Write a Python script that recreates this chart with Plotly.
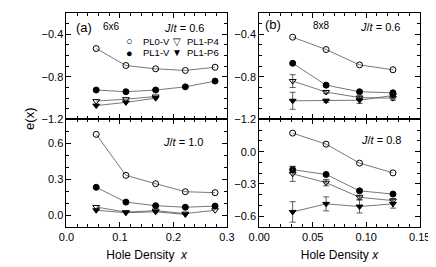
import plotly.graph_objects as go

# ---------------- data ----------------
x6 = [0.0556, 0.1111, 0.1667, 0.2222, 0.2778]
x8 = [0.03125, 0.0625, 0.09375, 0.125]

# (a) 6x6, J/t = 0.6
a06_pl0v = [-0.535, -0.694, -0.725, -0.740, -0.710]
a06_pl1v = [-0.924, -0.940, -0.924, -0.894, -0.840]
a06_p4 = [-1.028, -1.010, -0.985]
a06_p6 = [-1.070, -1.040, -1.000]

# (a) 6x6, J/t = 1.0
a10_pl0v = [0.675, 0.332, 0.262, 0.195, 0.187]
a10_pl1v = [0.232, 0.108, 0.078, 0.065, 0.075]
a10_p4 = [0.067, 0.024, 0.037, 0.012, 0.040]
a10_p6 = [0.040, 0.019, 0.027, 0.005]

# (b) 8x8, J/t = 0.6
b06_pl0v = [-0.428, -0.544, -0.688, -0.734]
b06_pl1v = [-0.673, -0.878, -0.940, -0.950]
b06_p4 = [-0.840, -0.943, -0.995, -1.000]
b06_p4_err = [0.060, 0.015, 0.015, 0.020]
b06_p6 = [-1.025, -1.025, -1.020, -0.975]
b06_p6_err = [0.080, 0.015, 0.030, 0.020]

# (b) 8x8, J/t = 0.8
b08_pl0v = [0.173, 0.070, -0.106, -0.197]
b08_pl1v = [-0.167, -0.212, -0.364, -0.394]
b08_pl1v_err = [0.030, 0.010, 0.010, 0.010]
b08_p4 = [-0.206, -0.288, -0.424, -0.455]
b08_p4_err = [0.070, 0.030, 0.020, 0.020]
b08_p6 = [-0.560, -0.485, -0.510, -0.485]
b08_p6_err = [0.095, 0.065, 0.060, 0.040]

series_names = ["PL0-V", "PL1-V", "PL1-P4", "PL1-P6"]
# --------------------------------------

W, H = 436, 267
FONT = "Liberation Sans, Arial, sans-serif"

styles = {
    "PL0-V": dict(symbol="circle-open", size=6),
    "PL1-V": dict(symbol="circle", size=6),
    "PL1-P4": dict(symbol="triangle-down-open", size=6),
    "PL1-P6": dict(symbol="triangle-down", size=6),
}

fig = go.Figure()

def px_x(p):
    return p / W

def px_y(p):
    return 1 - p / H

# panel domains (paper)
xdomL = [px_x(50), px_x(219)]
xdomR = [px_x(253), px_x(422)]
ydomT = [px_y(114), px_y(5)]
ydomB = [px_y(224), px_y(114)]

def add(axis_id, xs, ys, name, err=None):
    st = styles[name]
    tr = go.Scatter(
        x=xs[:len(ys)], y=ys, mode="lines+markers", name=name, showlegend=False,
        line=dict(color="#555555", width=0.8),
        marker=dict(symbol=st["symbol"], size=st["size"], color="black",
                    line=dict(color="black", width=1)),
        xaxis="x" + axis_id, yaxis="y" + axis_id,
    )
    if err is not None:
        tr.error_y = dict(type="data", array=err, visible=True, color="#333333",
                          thickness=0.8, width=3)
    fig.add_trace(tr)

# panel 1: top-left ; 2: bottom-left ; 3: top-right ; 4: bottom-right
add("1", x6, a06_pl0v, "PL0-V")
add("1", x6, a06_pl1v, "PL1-V")
add("1", x6, a06_p4, "PL1-P4")
add("1", x6, a06_p6, "PL1-P6")

add("2", x6, a10_pl0v, "PL0-V")
add("2", x6, a10_pl1v, "PL1-V")
add("2", x6, a10_p4, "PL1-P4")
add("2", x6, a10_p6, "PL1-P6")

add("3", x8, b06_pl0v, "PL0-V")
add("3", x8, b06_pl1v, "PL1-V")
add("3", x8, b06_p4, "PL1-P4", b06_p4_err)
add("3", x8, b06_p6, "PL1-P6", b06_p6_err)

add("4", x8, b08_pl0v, "PL0-V")
add("4", x8, b08_pl1v, "PL1-V", b08_pl1v_err)
add("4", x8, b08_p4, "PL1-P4", b08_p4_err)
add("4", x8, b08_p6, "PL1-P6", b08_p6_err)

tickfont = dict(family=FONT, size=11, color="black")

def xaxis(domain, rng, dtick, minor_dtick, anchor, labels, fmt, title=None):
    d = dict(domain=domain, range=rng, anchor=anchor, showline=True, mirror="ticks",
             linecolor="black", linewidth=1, ticks="inside", ticklen=5, tickcolor="black",
             dtick=dtick, tick0=0, showgrid=False, zeroline=False,
             showticklabels=labels, tickformat=fmt, tickfont=tickfont,
             minor=dict(ticks="inside", ticklen=3, dtick=minor_dtick, tick0=0,
                        tickcolor="black", showgrid=False))
    if title:
        d["title"] = dict(text=title, font=dict(family=FONT, size=12, color="black"),
                          standoff=8)
    return d

def yaxis(domain, rng, tickvals, minor_dtick, anchor, fmt):
    return dict(domain=domain, range=rng, anchor=anchor, showline=True, mirror="ticks",
                linecolor="black", linewidth=1, ticks="inside", ticklen=5, tickcolor="black",
                tickvals=tickvals, showgrid=False, zeroline=False, tickformat=fmt,
                tickfont=tickfont,
                minor=dict(ticks="inside", ticklen=3, dtick=minor_dtick, tick0=0,
                           tickcolor="black", showgrid=False))

xt = "Hole Density  <i>x</i>"
xt2 = "Hole Density <i>x</i>"
fig.update_layout(
    xaxis1=xaxis(xdomL, [0, 0.3], 0.1, 0.02, "y1", False, ".1f"),
    yaxis1=yaxis(ydomT, [-1.2, -0.2], [-1.2, -0.8, -0.4], 0.1, "x1", ".1f"),
    xaxis2=xaxis(xdomL, [0, 0.3], 0.1, 0.02, "y2", True, ".1f", xt),
    yaxis2=yaxis(ydomB, [-0.1, 0.8], [0.0, 0.3, 0.6], 0.1, "x2", ".1f"),
    xaxis3=xaxis(xdomR, [0, 0.15], 0.05, 0.01, "y3", False, ".2f"),
    yaxis3=yaxis(ydomT, [-1.2, -0.2], [-1.2, -0.8, -0.4], 0.1, "x3", ".1f"),
    xaxis4=xaxis(xdomR, [0, 0.15], 0.05, 0.01, "y4", True, ".2f", xt2),
    yaxis4=yaxis(ydomB, [-0.7, 0.3], [-0.6, -0.3, 0.0], 0.1, "x4", ".1f"),
)

ann = []
def txt(x, y, s, size=12, xanchor="left"):
    ann.append(dict(x=px_x(x), y=px_y(y), xref="paper", yref="paper", text=s,
                    showarrow=False, xanchor=xanchor, yanchor="middle",
                    font=dict(family=FONT, size=size, color="black")))

txt(58, 20, "(a)", 13)
txt(86, 19, "6x6", 10)
txt(151, 20, "<i>J</i>/<i>t</i> = 0.6", 11)
txt(150, 137, "<i>J</i>/<i>t</i> = 1.0", 11)
txt(257, 17, "(b)", 13)
txt(307, 18, "8x8", 10)
txt(357, 19, "<i>J</i>/<i>t</i> = 0.6", 11)
txt(358, 135, "<i>J</i>/<i>t</i> = 0.8", 11)

# legend (text labels with symbol glyphs)
txt(116.7, 34, "○", 11, "center")
txt(129, 34, "PL0-V", 9.5)
txt(166.7, 34, "▽", 10, "center")
txt(175, 34, "PL1-P4", 9.5)
txt(116.7, 46, "●", 11, "center")
txt(129, 46, "PL1-V", 9.5)
txt(166.7, 46, "▼", 10, "center")
txt(175, 46, "PL1-P6", 9.5)

ann.append(dict(x=px_x(11), y=px_y(113), xref="paper", yref="paper", text="e(x)",
                showarrow=False, textangle=-90, xanchor="center", yanchor="middle",
                font=dict(family=FONT, size=13, color="black")))

fig.update_layout(
    annotations=ann,
    width=W, height=H,
    margin=dict(l=0, r=0, t=0, b=0),
    paper_bgcolor="white", plot_bgcolor="white",
    showlegend=False,
)

fig.write_html("out.html")
